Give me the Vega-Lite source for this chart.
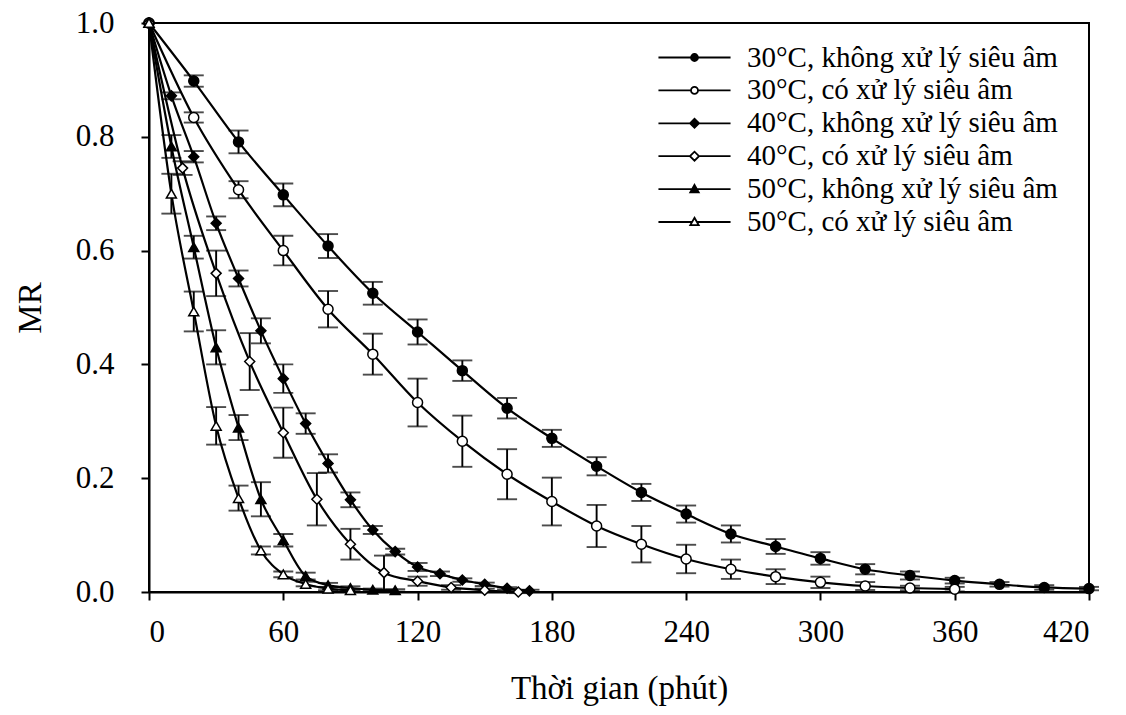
{
  "$schema": "https://vega.github.io/schema/vega-lite/v6.json",
  "width": 940,
  "height": 569,
  "autosize": {"type": "none"},
  "padding": {"left": 149, "top": 23, "right": 37, "bottom": 123},
  "background": "white",
  "config": {
    "font": "Liberation Serif",
    "view": {"stroke": "black", "strokeWidth": 2},
    "axis": {
      "grid": false,
      "domainColor": "black",
      "domainWidth": 2,
      "tickColor": "black",
      "tickWidth": 2,
      "tickSize": 8,
      "labelFont": "Liberation Serif",
      "labelFontSize": 31,
      "labelColor": "black",
      "titleFont": "Liberation Serif",
      "titleFontSize": 33,
      "titleFontWeight": "normal",
      "titleColor": "black"
    }
  },
  "data": {
    "values": [
      {"series": "30°C, không xử lý siêu âm", "time": 0, "MR": 1.0, "err": 0},
      {"series": "30°C, không xử lý siêu âm", "time": 20, "MR": 0.898, "err": 0.010},
      {"series": "30°C, không xử lý siêu âm", "time": 40, "MR": 0.791, "err": 0.020},
      {"series": "30°C, không xử lý siêu âm", "time": 60, "MR": 0.698, "err": 0.020},
      {"series": "30°C, không xử lý siêu âm", "time": 80, "MR": 0.608, "err": 0.021},
      {"series": "30°C, không xử lý siêu âm", "time": 100, "MR": 0.525, "err": 0.020},
      {"series": "30°C, không xử lý siêu âm", "time": 120, "MR": 0.457, "err": 0.022},
      {"series": "30°C, không xử lý siêu âm", "time": 140, "MR": 0.389, "err": 0.018},
      {"series": "30°C, không xử lý siêu âm", "time": 160, "MR": 0.323, "err": 0.018},
      {"series": "30°C, không xử lý siêu âm", "time": 180, "MR": 0.270, "err": 0.015},
      {"series": "30°C, không xử lý siêu âm", "time": 200, "MR": 0.221, "err": 0.016},
      {"series": "30°C, không xử lý siêu âm", "time": 220, "MR": 0.175, "err": 0.015},
      {"series": "30°C, không xử lý siêu âm", "time": 240, "MR": 0.137, "err": 0.015},
      {"series": "30°C, không xử lý siêu âm", "time": 260, "MR": 0.102, "err": 0.015},
      {"series": "30°C, không xử lý siêu âm", "time": 280, "MR": 0.080, "err": 0.013},
      {"series": "30°C, không xử lý siêu âm", "time": 300, "MR": 0.059, "err": 0.011},
      {"series": "30°C, không xử lý siêu âm", "time": 320, "MR": 0.040, "err": 0.009},
      {"series": "30°C, không xử lý siêu âm", "time": 340, "MR": 0.029, "err": 0.007},
      {"series": "30°C, không xử lý siêu âm", "time": 360, "MR": 0.020, "err": 0.005},
      {"series": "30°C, không xử lý siêu âm", "time": 380, "MR": 0.0135, "err": 0.004},
      {"series": "30°C, không xử lý siêu âm", "time": 400, "MR": 0.008, "err": 0.004},
      {"series": "30°C, không xử lý siêu âm", "time": 420, "MR": 0.006, "err": 0.003},

      {"series": "30°C, có xử lý siêu âm", "time": 0, "MR": 1.0, "err": 0},
      {"series": "30°C, có xử lý siêu âm", "time": 20, "MR": 0.834, "err": 0.009},
      {"series": "30°C, có xử lý siêu âm", "time": 40, "MR": 0.707, "err": 0.015},
      {"series": "30°C, có xử lý siêu âm", "time": 60, "MR": 0.600, "err": 0.026},
      {"series": "30°C, có xử lý siêu âm", "time": 80, "MR": 0.497, "err": 0.032},
      {"series": "30°C, có xử lý siêu âm", "time": 100, "MR": 0.418, "err": 0.036},
      {"series": "30°C, có xử lý siêu âm", "time": 120, "MR": 0.333, "err": 0.042},
      {"series": "30°C, có xử lý siêu âm", "time": 140, "MR": 0.265, "err": 0.045},
      {"series": "30°C, có xử lý siêu âm", "time": 160, "MR": 0.207, "err": 0.044},
      {"series": "30°C, có xử lý siêu âm", "time": 180, "MR": 0.159, "err": 0.042},
      {"series": "30°C, có xử lý siêu âm", "time": 200, "MR": 0.116, "err": 0.037},
      {"series": "30°C, có xử lý siêu âm", "time": 220, "MR": 0.084, "err": 0.032},
      {"series": "30°C, có xử lý siêu âm", "time": 240, "MR": 0.058, "err": 0.025},
      {"series": "30°C, có xử lý siêu âm", "time": 260, "MR": 0.040, "err": 0.017},
      {"series": "30°C, có xử lý siêu âm", "time": 280, "MR": 0.027, "err": 0.013},
      {"series": "30°C, có xử lý siêu âm", "time": 300, "MR": 0.017, "err": 0.010},
      {"series": "30°C, có xử lý siêu âm", "time": 320, "MR": 0.0105, "err": 0.007},
      {"series": "30°C, có xử lý siêu âm", "time": 340, "MR": 0.007, "err": 0.004},
      {"series": "30°C, có xử lý siêu âm", "time": 360, "MR": 0.005, "err": 0.004},

      {"series": "40°C, không xử lý siêu âm", "time": 0, "MR": 1.0, "err": 0},
      {"series": "40°C, không xử lý siêu âm", "time": 10, "MR": 0.872, "err": 0.006},
      {"series": "40°C, không xử lý siêu âm", "time": 20, "MR": 0.765, "err": 0.010},
      {"series": "40°C, không xử lý siêu âm", "time": 30, "MR": 0.648, "err": 0.012},
      {"series": "40°C, không xử lý siêu âm", "time": 40, "MR": 0.551, "err": 0.014},
      {"series": "40°C, không xử lý siêu âm", "time": 50, "MR": 0.459, "err": 0.022},
      {"series": "40°C, không xử lý siêu âm", "time": 60, "MR": 0.375, "err": 0.025},
      {"series": "40°C, không xử lý siêu âm", "time": 70, "MR": 0.296, "err": 0.018},
      {"series": "40°C, không xử lý siêu âm", "time": 80, "MR": 0.226, "err": 0.016},
      {"series": "40°C, không xử lý siêu âm", "time": 90, "MR": 0.162, "err": 0.013},
      {"series": "40°C, không xử lý siêu âm", "time": 100, "MR": 0.109, "err": 0.007},
      {"series": "40°C, không xử lý siêu âm", "time": 110, "MR": 0.071, "err": 0.005},
      {"series": "40°C, không xử lý siêu âm", "time": 120, "MR": 0.044, "err": 0.007},
      {"series": "40°C, không xử lý siêu âm", "time": 130, "MR": 0.032, "err": 0.004},
      {"series": "40°C, không xử lý siêu âm", "time": 140, "MR": 0.021, "err": 0.003},
      {"series": "40°C, không xử lý siêu âm", "time": 150, "MR": 0.0135, "err": 0.003},
      {"series": "40°C, không xử lý siêu âm", "time": 160, "MR": 0.0065, "err": 0.002},
      {"series": "40°C, không xử lý siêu âm", "time": 170, "MR": 0.002, "err": 0.002},

      {"series": "40°C, có xử lý siêu âm", "time": 0, "MR": 1.0, "err": 0},
      {"series": "40°C, có xử lý siêu âm", "time": 15, "MR": 0.745, "err": 0.012},
      {"series": "40°C, có xử lý siêu âm", "time": 30, "MR": 0.560, "err": 0.040},
      {"series": "40°C, có xử lý siêu âm", "time": 45, "MR": 0.405, "err": 0.050},
      {"series": "40°C, có xử lý siêu âm", "time": 60, "MR": 0.280, "err": 0.044},
      {"series": "40°C, có xử lý siêu âm", "time": 75, "MR": 0.163, "err": 0.046},
      {"series": "40°C, có xử lý siêu âm", "time": 90, "MR": 0.084, "err": 0.027},
      {"series": "40°C, có xử lý siêu âm", "time": 105, "MR": 0.034, "err": 0.030},
      {"series": "40°C, có xử lý siêu âm", "time": 120, "MR": 0.019, "err": 0.008},
      {"series": "40°C, có xử lý siêu âm", "time": 135, "MR": 0.008, "err": 0.004},
      {"series": "40°C, có xử lý siêu âm", "time": 150, "MR": 0.003, "err": 0.003},
      {"series": "40°C, có xử lý siêu âm", "time": 165, "MR": 0.0, "err": 0.002},

      {"series": "50°C, không xử lý siêu âm", "time": 0, "MR": 1.0, "err": 0},
      {"series": "50°C, không xử lý siêu âm", "time": 10, "MR": 0.783, "err": 0.020},
      {"series": "50°C, không xử lý siêu âm", "time": 20, "MR": 0.606, "err": 0.020},
      {"series": "50°C, không xử lý siêu âm", "time": 30, "MR": 0.430, "err": 0.030},
      {"series": "50°C, không xử lý siêu âm", "time": 40, "MR": 0.289, "err": 0.022},
      {"series": "50°C, không xử lý siêu âm", "time": 50, "MR": 0.163, "err": 0.030},
      {"series": "50°C, không xử lý siêu âm", "time": 60, "MR": 0.091, "err": 0.011},
      {"series": "50°C, không xử lý siêu âm", "time": 70, "MR": 0.028, "err": 0.006},
      {"series": "50°C, không xử lý siêu âm", "time": 80, "MR": 0.012, "err": 0.004},
      {"series": "50°C, không xử lý siêu âm", "time": 90, "MR": 0.007, "err": 0.003},
      {"series": "50°C, không xử lý siêu âm", "time": 100, "MR": 0.004, "err": 0.002},
      {"series": "50°C, không xử lý siêu âm", "time": 110, "MR": 0.003, "err": 0.002},

      {"series": "50°C, có xử lý siêu âm", "time": 0, "MR": 1.0, "err": 0},
      {"series": "50°C, có xử lý siêu âm", "time": 10, "MR": 0.700, "err": 0.035},
      {"series": "50°C, có xử lý siêu âm", "time": 20, "MR": 0.493, "err": 0.035},
      {"series": "50°C, có xử lý siêu âm", "time": 30, "MR": 0.292, "err": 0.033},
      {"series": "50°C, có xử lý siêu âm", "time": 40, "MR": 0.165, "err": 0.022},
      {"series": "50°C, có xử lý siêu âm", "time": 50, "MR": 0.073, "err": 0.007},
      {"series": "50°C, có xử lý siêu âm", "time": 60, "MR": 0.031, "err": 0.005},
      {"series": "50°C, có xử lý siêu âm", "time": 70, "MR": 0.014, "err": 0.004},
      {"series": "50°C, có xử lý siêu âm", "time": 80, "MR": 0.006, "err": 0.003},
      {"series": "50°C, có xử lý siêu âm", "time": 90, "MR": 0.003, "err": 0.002}
    ]
  },
  "resolve": {
    "scale": {"shape": "independent", "fill": "independent"},
    "legend": {"shape": "independent", "fill": "independent"}
  },
  "layer": [
    {
      "transform": [{"filter": "datum.err > 0"}],
      "mark": {"type": "errorbar", "ticks": true, "size": 20, "thickness": 1.9, "color": "black"},
      "encoding": {
        "x": {"field": "time", "type": "quantitative"},
        "y": {"field": "MR", "type": "quantitative"},
        "yError": {"field": "err"},
        "detail": {"field": "series"}
      }
    },
    {
      "mark": {"type": "line", "color": "black", "strokeWidth": 2.2, "interpolate": "monotone"},
      "encoding": {
        "x": {"field": "time", "type": "quantitative", "scale": {"domain": [0, 420], "nice": false},
          "axis": {"values": [0, 60, 120, 180, 240, 300, 360, 420], "title": "Thời gian (phút)", "labelPadding": 17, "titlePadding": 25}},
        "y": {"field": "MR", "type": "quantitative", "scale": {"domain": [0, 1], "nice": false},
          "axis": {"values": [0, 0.2, 0.4, 0.6, 0.8, 1.0], "format": ".1f", "title": "MR", "labelPadding": 27, "titlePadding": 28}},
        "detail": {"field": "series"}
      }
    },
    {
      "mark": {"type": "point", "stroke": "black", "strokeWidth": 1.5, "opacity": 1, "fillOpacity": 1, "size": 100},
      "encoding": {
        "x": {"field": "time", "type": "quantitative"},
        "y": {"field": "MR", "type": "quantitative"},
        "shape": {
          "field": "series", "type": "nominal",
          "scale": {
            "domain": ["30°C, không xử lý siêu âm", "30°C, có xử lý siêu âm", "40°C, không xử lý siêu âm", "40°C, có xử lý siêu âm", "50°C, không xử lý siêu âm", "50°C, có xử lý siêu âm"],
            "range": ["circle", "circle", "diamond", "diamond", "triangle-up", "triangle-up"]
          },
          "legend": null
        },
        "fill": {
          "field": "series", "type": "nominal",
          "scale": {
            "domain": ["30°C, không xử lý siêu âm", "30°C, có xử lý siêu âm", "40°C, không xử lý siêu âm", "40°C, có xử lý siêu âm", "50°C, không xử lý siêu âm", "50°C, có xử lý siêu âm"],
            "range": ["black", "white", "black", "white", "black", "white"]
          },
          "legend": null
        }
      }
    },
    {
      "transform": [{"filter": "datum.time < 0"}],
      "mark": {"type": "point", "stroke": "black", "strokeWidth": 1.8, "opacity": 1, "fillOpacity": 1},
      "encoding": {
        "x": {"field": "time", "type": "quantitative"},
        "y": {"field": "MR", "type": "quantitative"},
        "shape": {
          "field": "series", "type": "nominal",
          "scale": {
            "domain": ["30°C, không xử lý siêu âm", "30°C, có xử lý siêu âm", "40°C, không xử lý siêu âm", "40°C, có xử lý siêu âm", "50°C, không xử lý siêu âm", "50°C, có xử lý siêu âm"],
            "range": [
              "M-10.3,0H10.3M-1,0A1,1,0,1,0,1,0A1,1,0,1,0,-1,0Z",
              "M-10.3,0H-1M1,0H10.3M-1,0A1,1,0,1,0,1,0A1,1,0,1,0,-1,0Z",
              "M-10.3,0H10.3M-1.3,0L0,-1.3L1.3,0L0,1.3Z",
              "M-10.3,0H-1.3M1.3,0H10.3M-1.3,0L0,-1.3L1.3,0L0,1.3Z",
              "M-10.3,0H10.3M0,-1.2L1.2,0.9L-1.2,0.9Z",
              "M-10.3,0H-0.7M0.7,0H10.3M0,-1.2L1.2,0.9L-1.2,0.9Z"
            ]
          },
          "legend": {
            "title": null,
            "orient": "none",
            "legendX": 531,
            "legendY": 20,
            "labelFont": "Liberation Serif",
            "labelFontSize": 29,
            "labelColor": "black",
            "labelLimit": 600,
            "labelOffset": 38,
            "rowPadding": 2.9,
            "symbolSize": 49,
            "symbolStrokeWidth": 1.8,
            "symbolOpacity": 1,
            "encode": {
              "symbols": {
                "stroke": {"value": "black"},
                "strokeWidth": {"value": 1.8},
                "strokeOpacity": {"value": 1}
              }
            }
          }
        },
        "fill": {
          "field": "series", "type": "nominal",
          "scale": {
            "domain": ["30°C, không xử lý siêu âm", "30°C, có xử lý siêu âm", "40°C, không xử lý siêu âm", "40°C, có xử lý siêu âm", "50°C, không xử lý siêu âm", "50°C, có xử lý siêu âm"],
            "range": ["black", "white", "black", "white", "black", "white"]
          },
          "legend": {
            "title": null,
            "orient": "none",
            "legendX": 531,
            "legendY": 20,
            "labelFont": "Liberation Serif",
            "labelFontSize": 29,
            "labelColor": "black",
            "labelLimit": 600,
            "labelOffset": 38,
            "rowPadding": 2.9,
            "symbolSize": 49,
            "symbolStrokeWidth": 1.8,
            "symbolOpacity": 1,
            "encode": {
              "symbols": {
                "stroke": {"value": "black"},
                "strokeWidth": {"value": 1.8},
                "strokeOpacity": {"value": 1}
              }
            }
          }
        }
      }
    }
  ]
}
